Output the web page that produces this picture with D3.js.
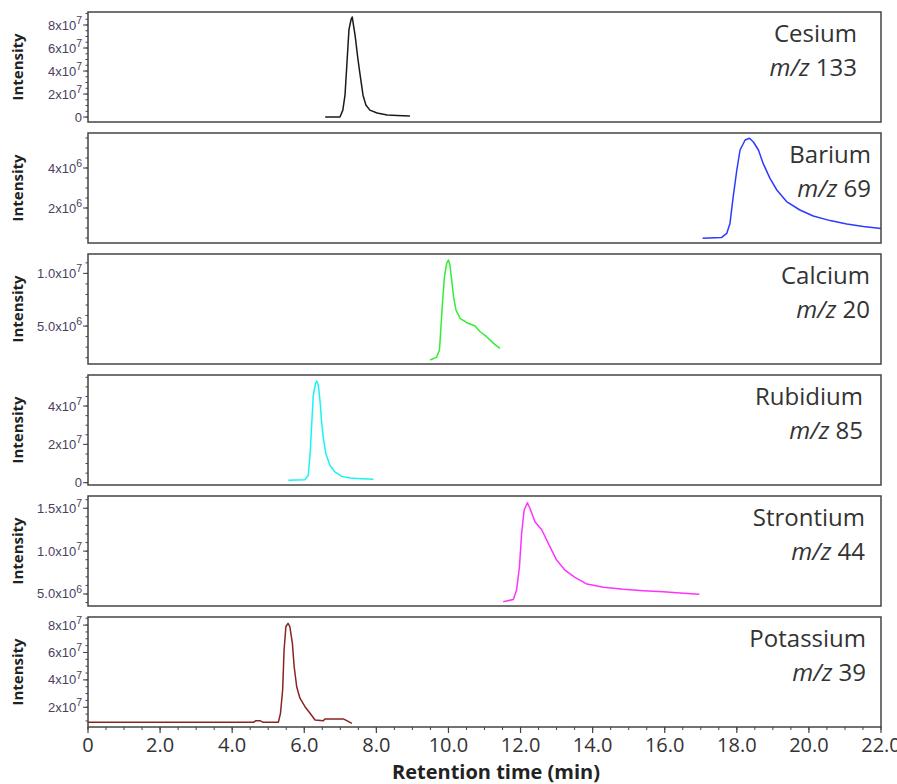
<!DOCTYPE html>
<html><head><meta charset="utf-8">
<script src="https://cdn.jsdelivr.net/npm/d3@7"></script>
<style>body{margin:0;background:#fff;} svg{display:block;}</style>
</head><body>
<svg id="chart" width="897" height="784"></svg>
<script>
// ---------- DATA ----------
const elements = ["Cesium", "Barium", "Calcium", "Rubidium", "Strontium", "Potassium"];
const mzValues = ["133", "69", "20", "85", "44", "39"];

const cesiumTime = [6.58, 6.99, 7.07, 7.13, 7.19, 7.24, 7.30, 7.33, 7.35, 7.41, 7.49, 7.55, 7.63, 7.71, 7.82, 8.02, 8.30, 8.57, 8.93];
const cesiumIntensity = [0, 0, 0.6e7, 1.9e7, 5.0e7, 7.6e7, 8.5e7, 8.7e7, 8.3e7, 7.1e7, 5.0e7, 3.65e7, 1.9e7, 1.04e7, 0.6e7, 0.35e7, 0.17e7, 0.13e7, 0.09e7];

const bariumTime = [17.05, 17.58, 17.72, 17.81, 17.90, 18.00, 18.09, 18.23, 18.35, 18.46, 18.60, 18.73, 18.92, 19.11, 19.38, 19.75, 20.12, 20.59, 21.05, 21.51, 22.0];
const bariumIntensity = [0.49e6, 0.53e6, 0.73e6, 1.23e6, 2.57e6, 3.9e6, 4.9e6, 5.4e6, 5.49e6, 5.3e6, 4.9e6, 4.23e6, 3.48e6, 2.9e6, 2.32e6, 1.9e6, 1.6e6, 1.37e6, 1.2e6, 1.07e6, 0.98e6];

const calciumTime = [9.49, 9.67, 9.75, 9.78, 9.84, 9.89, 9.95, 10.0, 10.04, 10.09, 10.14, 10.21, 10.32, 10.51, 10.74, 10.88, 11.06, 11.25, 11.43];
const calciumIntensity = [1.78e6, 2.03e6, 2.72e6, 4.3e6, 7.47e6, 9.69e6, 10.96e6, 11.27e6, 10.8e6, 9.37e6, 7.79e6, 6.52e6, 5.74e6, 5.32e6, 5.0e6, 4.46e6, 3.99e6, 3.36e6, 2.89e6];

const rubidiumTime = [5.56, 6.02, 6.11, 6.16, 6.21, 6.25, 6.31, 6.35, 6.39, 6.44, 6.48, 6.53, 6.60, 6.71, 6.85, 7.04, 7.27, 7.59, 7.92];
const rubidiumIntensity = [0.125e7, 0.16e7, 0.39e7, 1.43e7, 3.17e7, 4.56e7, 5.17e7, 5.3e7, 5.09e7, 4.21e7, 3.17e7, 2.3e7, 1.51e7, 0.91e7, 0.56e7, 0.33e7, 0.25e7, 0.21e7, 0.18e7];

const strontiumTime = [11.52, 11.80, 11.89, 11.97, 12.03, 12.10, 12.19, 12.26, 12.40, 12.59, 12.77, 13.00, 13.23, 13.51, 13.84, 14.30, 14.85, 15.41, 15.96, 16.52, 16.96];
const strontiumIntensity = [4.1e6, 4.37e6, 5.46e6, 8.18e6, 12.08e6, 14.8e6, 15.65e6, 15.0e6, 13.43e6, 12.46e6, 10.9e6, 8.96e6, 7.79e6, 6.94e6, 6.16e6, 5.78e6, 5.54e6, 5.38e6, 5.26e6, 5.08e6, 4.96e6];

const potassiumTime = [0, 4.59, 4.66, 4.77, 4.86, 5.28, 5.34, 5.40, 5.44, 5.49, 5.55, 5.60, 5.67, 5.72, 5.79, 5.88, 6.02, 6.16, 6.30, 6.53, 6.57, 7.08, 7.18, 7.32];
const potassiumIntensity = [0.9e7, 0.9e7, 1.02e7, 1.02e7, 0.9e7, 0.9e7, 1.56e7, 3.26e7, 6.18e7, 7.88e7, 8.13e7, 7.88e7, 6.67e7, 4.96e7, 3.5e7, 2.66e7, 2.04e7, 1.56e7, 1.07e7, 1.02e7, 1.15e7, 1.15e7, 1.02e7, 0.83e7];

// y tick values and labels (^ marks the exponent)
const cesiumTicks = [0, 2e7, 4e7, 6e7, 8e7];
const cesiumTickLabels = ["0", "2x10^7", "4x10^7", "6x10^7", "8x10^7"];
const bariumTicks = [2e6, 4e6];
const bariumTickLabels = ["2x10^6", "4x10^6"];
const calciumTicks = [5e6, 1e7];
const calciumTickLabels = ["5.0x10^6", "1.0x10^7"];
const rubidiumTicks = [0, 2e7, 4e7];
const rubidiumTickLabels = ["0", "2x10^7", "4x10^7"];
const strontiumTicks = [5e6, 1e7, 1.5e7];
const strontiumTickLabels = ["5.0x10^6", "1.0x10^7", "1.5x10^7"];
const potassiumTicks = [2e7, 4e7, 6e7, 8e7];
const potassiumTickLabels = ["2x10^7", "4x10^7", "6x10^7", "8x10^7"];

// minor y tick step per panel
const minorSteps = [0.5e7, 0.5e6, 1e6, 0.5e7, 1e6, 0.5e7];

// x ticks
const xTicks = [0, 2, 4, 6, 8, 10, 12, 14, 16, 18, 20, 22];
const xTickLabels = ["0", "2.0", "4.0", "6.0", "8.0", "10.0", "12.0", "14.0", "16.0", "18.0", "20.0", "22.0"];
const xMinorStep = 0.5;

// ---------- LAYOUT / STYLE ----------
const yDomains = [[-0.43e7, 9.13e7], [0.25e6, 5.75e6], [1.4e6, 11.84e6], [-0.12e7, 5.62e7], [3.6e6, 16.43e6], [0.56e7, 8.59e7]];
const colors = ["#1a1a1a", "#2b3bff", "#33ee33", "#19f3f3", "#ff33ff", "#8b2323"];
const labelRight = [857, 871, 870, 863, 865, 866];
const left = 88, right = 881, panelTop0 = 12, panelH = 110, panelGap = 121;

const series = [
  [cesiumTime, cesiumIntensity],
  [bariumTime, bariumIntensity],
  [calciumTime, calciumIntensity],
  [rubidiumTime, rubidiumIntensity],
  [strontiumTime, strontiumIntensity],
  [potassiumTime, potassiumIntensity]
];
const ticks = [cesiumTicks, bariumTicks, calciumTicks, rubidiumTicks, strontiumTicks, potassiumTicks];
const tickLabels = [cesiumTickLabels, bariumTickLabels, calciumTickLabels, rubidiumTickLabels, strontiumTickLabels, potassiumTickLabels];

const svg = d3.select("#chart");
const x = d3.scaleLinear().domain([0, 22]).range([left, right]);
const axisColor = "#444";

elements.forEach((name, i) => {
  const top = panelTop0 + i * panelGap;
  const bottom = top + panelH;
  const y = d3.scaleLinear().domain(yDomains[i]).range([bottom, top]);
  const g = svg.append("g");

  // minor y ticks
  const minor = [];
  const step = minorSteps[i];
  for (let v = Math.ceil(yDomains[i][0] / step) * step; v <= yDomains[i][1]; v += step) minor.push(v);
  g.selectAll(".ymin").data(minor).enter().append("line")
    .attr("x1", left - 2.5).attr("x2", left)
    .attr("y1", d => y(d)).attr("y2", d => y(d))
    .attr("stroke", axisColor).attr("stroke-width", 1);
  // major y ticks
  g.selectAll(".ymaj").data(ticks[i]).enter().append("line")
    .attr("x1", left - 5).attr("x2", left)
    .attr("y1", d => y(d)).attr("y2", d => y(d))
    .attr("stroke", axisColor).attr("stroke-width", 1);
  // tick labels
  ticks[i].forEach((v, k) => {
    const lab = tickLabels[i][k];
    const parts = lab.split("^");
    const t = g.append("text")
      .attr("x", left - 6).attr("y", y(v) + 4.5)
      .attr("text-anchor", "end")
      .attr("font-family", "Liberation Sans, Arial, sans-serif")
      .attr("font-size", 13).attr("fill", "#4a4060");
    t.append("tspan").text(parts[0]);
    if (parts[1]) t.append("tspan").attr("dy", -5.5).attr("font-size", 10.5).text(parts[1]);
  });

  // line
  const pts = series[i][0].map((t, k) => [t, series[i][1][k]]);
  g.append("path").datum(pts)
    .attr("d", d3.line().x(d => x(d[0])).y(d => y(d[1])))
    .attr("fill", "none").attr("stroke", colors[i]).attr("stroke-width", 1.5)
    .attr("stroke-linejoin", "round");

  // frame
  g.append("rect").attr("x", left).attr("y", top).attr("width", right - left).attr("height", panelH)
    .attr("fill", "none").attr("stroke", axisColor).attr("stroke-width", 1.5);

  // y axis title
  g.append("text")
    .attr("transform", `translate(23,${(top + bottom) / 2}) rotate(-90)`)
    .attr("text-anchor", "middle")
    .attr("font-family", "Open Sans, sans-serif").attr("font-weight", "bold")
    .attr("font-size", 15).attr("fill", "#222").text("Intensity");

  // element labels
  g.append("text").attr("x", labelRight[i]).attr("y", top + 30)
    .attr("text-anchor", "end").attr("font-family", "Open Sans, sans-serif")
    .attr("font-size", 24).attr("fill", "#333").text(name);
  const mz = g.append("text").attr("x", labelRight[i]).attr("y", top + 64)
    .attr("text-anchor", "end").attr("font-family", "Open Sans, sans-serif")
    .attr("font-size", 24).attr("fill", "#333");
  mz.append("tspan").attr("font-style", "italic").text("m/z");
  mz.append("tspan").text("\u00a0" + mzValues[i]);
});

// x axis
const axisY = panelTop0 + 5 * panelGap + panelH;
const xMinor = d3.range(0, 22 + 1e-9, xMinorStep);
svg.selectAll(".xmin").data(xMinor).enter().append("line")
  .attr("x1", d => x(d)).attr("x2", d => x(d))
  .attr("y1", axisY).attr("y2", axisY + 3)
  .attr("stroke", axisColor).attr("stroke-width", 1);
svg.selectAll(".xmaj").data(xTicks).enter().append("line")
  .attr("x1", d => x(d)).attr("x2", d => x(d))
  .attr("y1", axisY).attr("y2", axisY + 6)
  .attr("stroke", axisColor).attr("stroke-width", 1.2);
svg.selectAll(".xlab").data(xTicks).enter().append("text")
  .attr("x", d => x(d)).attr("y", axisY + 25)
  .attr("text-anchor", "middle").attr("font-family", "Open Sans, sans-serif")
  .attr("font-size", 20).attr("fill", "#333")
  .text((d, k) => xTickLabels[k]);
svg.append("text").attr("x", 496).attr("y", 779)
  .attr("text-anchor", "middle").attr("font-family", "Open Sans, sans-serif")
  .attr("font-weight", "bold").attr("font-size", 20).attr("fill", "#222")
  .text("Retention time (min)");
</script>
</body></html>
